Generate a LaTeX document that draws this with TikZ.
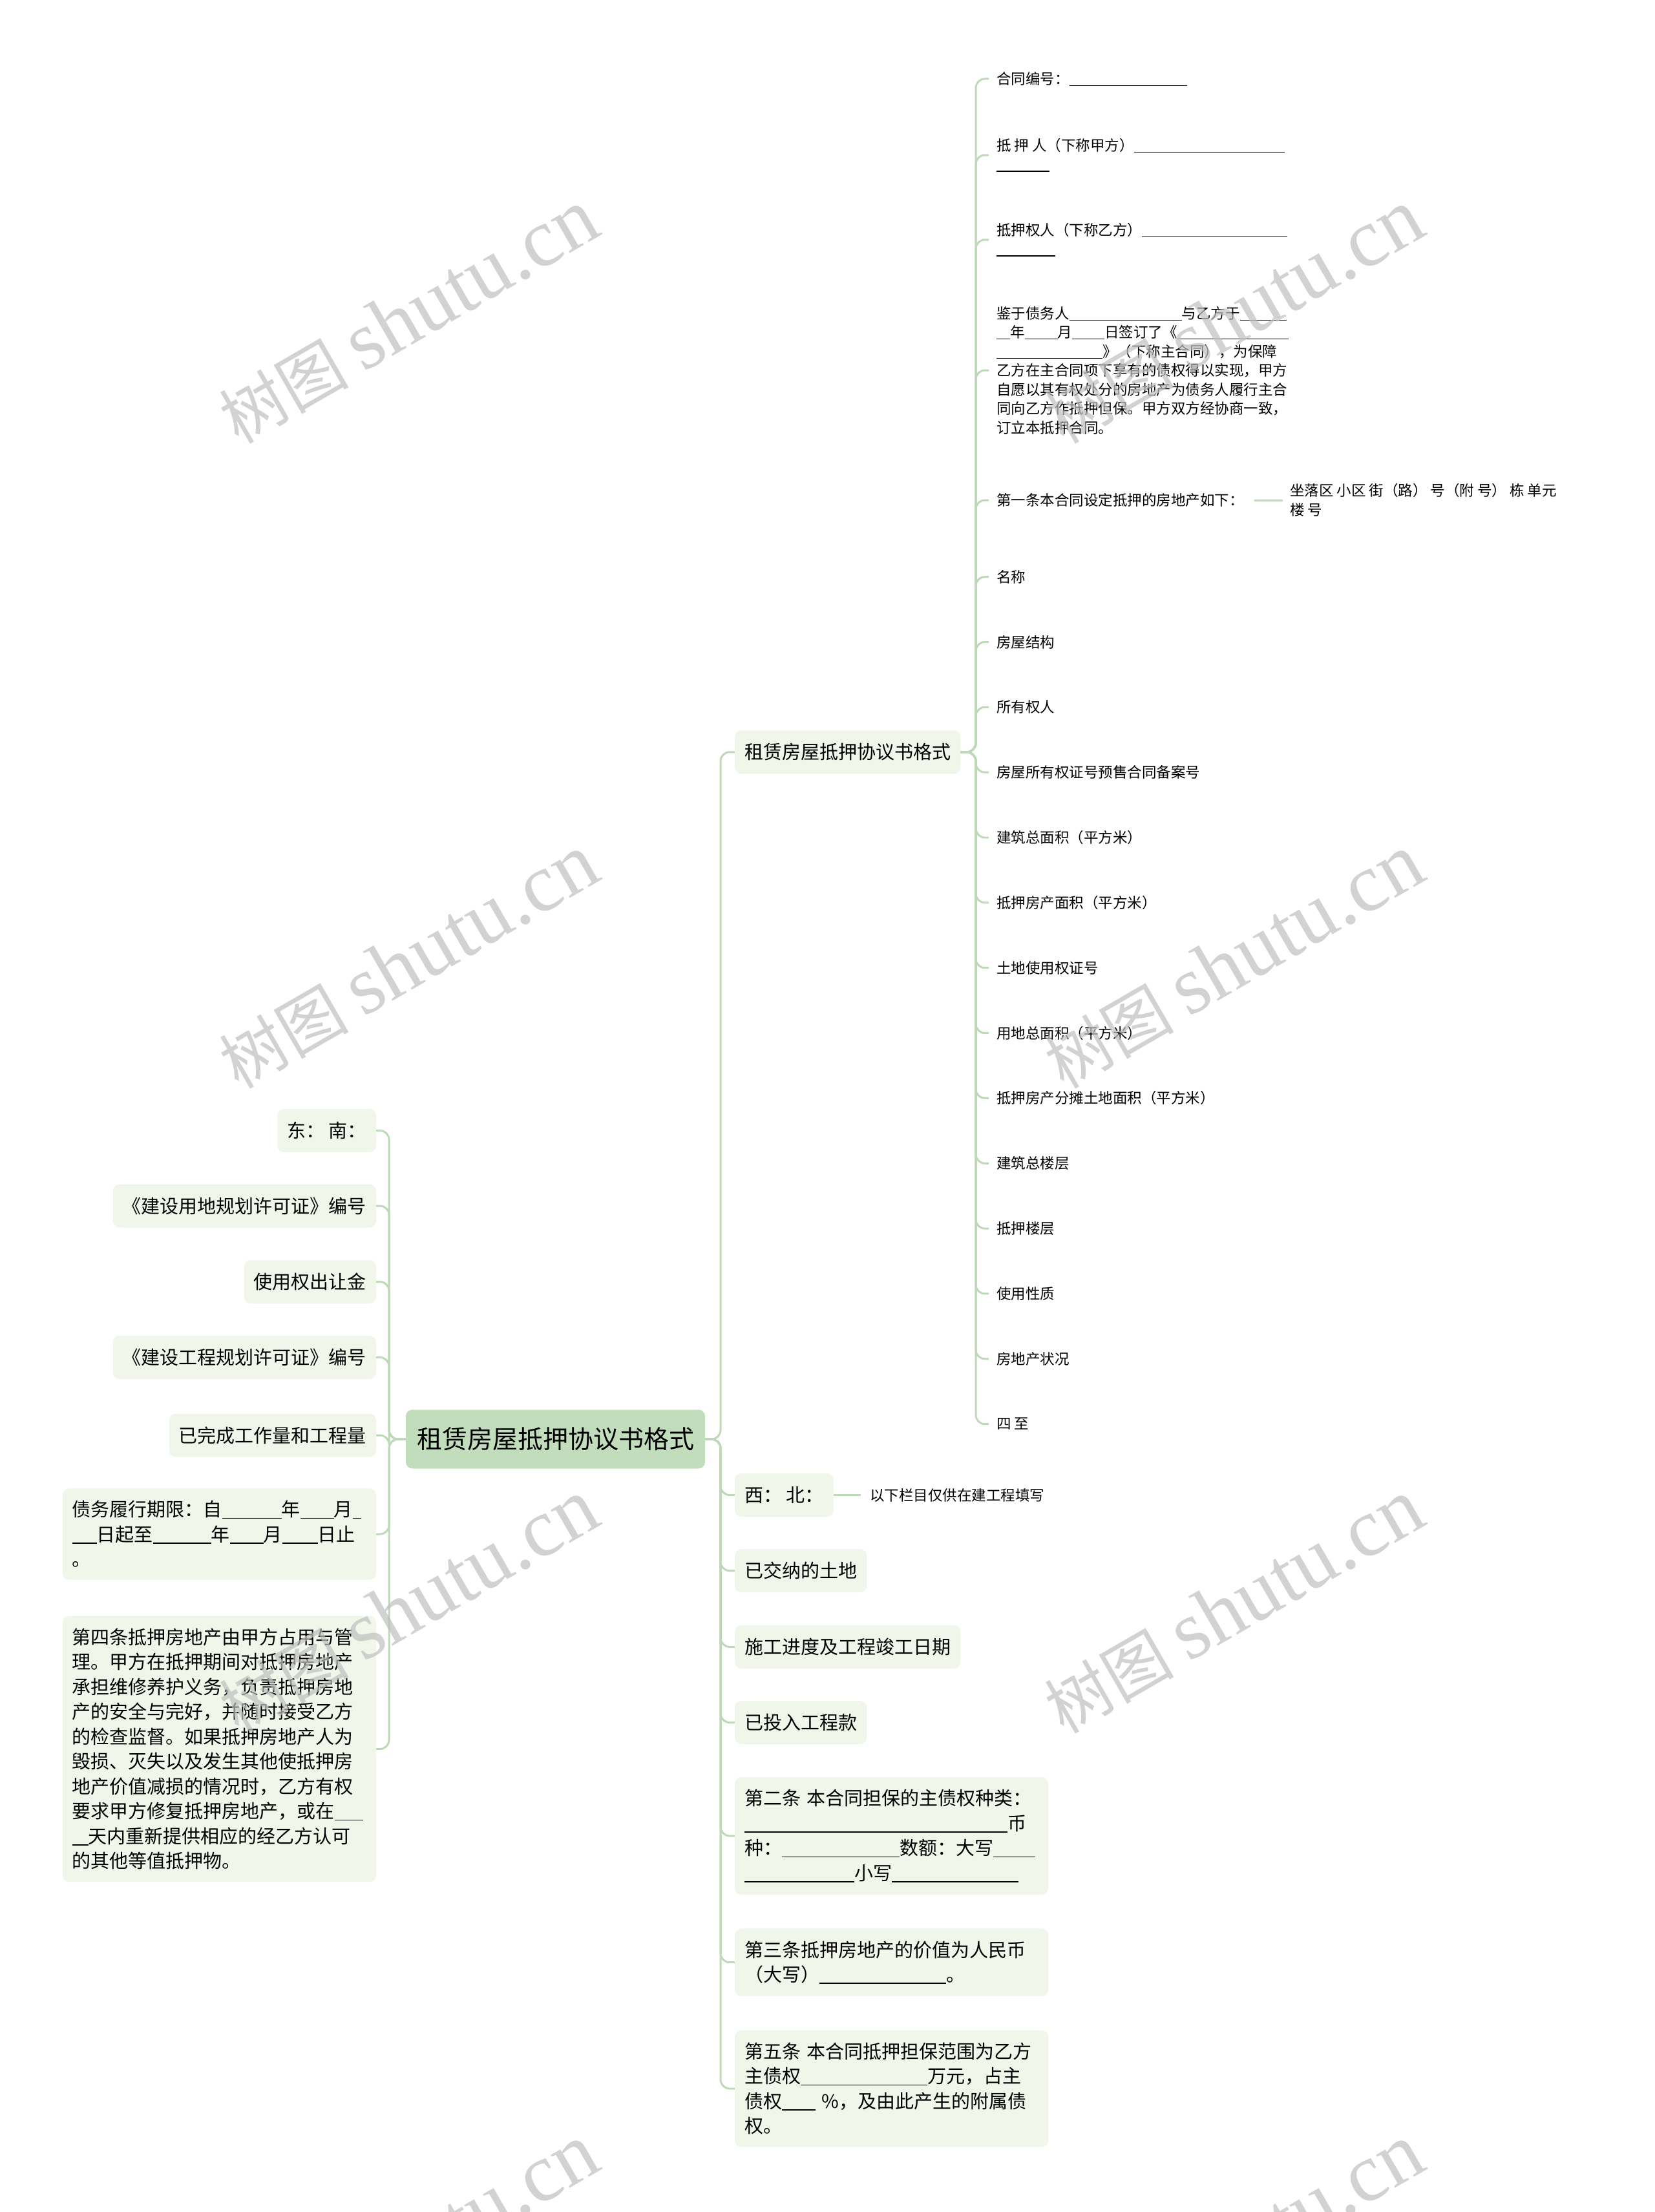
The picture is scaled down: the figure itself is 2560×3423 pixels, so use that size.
\documentclass[tikz,border=0pt]{standalone}
\usepackage{fontspec}
\setmainfont{Noto Sans CJK SC}
\newfontfamily\markfont{Liberation Serif}
\usepackage{xcolor}
\usepackage{tikz}
\usetikzlibrary{positioning}

\definecolor{rootgreen}{RGB}{194,221,188}
\definecolor{boxgreen}{RGB}{240,246,234}
\definecolor{linegreen}{RGB}{190,217,184}

\setlength{\parindent}{0pt}
\newcommand{\fillin}[1]{\rule[-0.12em]{#1pt}{0.055em}}

\begin{document}
\begin{tikzpicture}[
			x=1pt, y=-1pt,
			rootblock/.style = {rectangle, fill=rootgreen, rounded corners=10pt,
					inner xsep=17pt, minimum height=91pt, font=\fontsize{39}{47}\selectfont},
			branchblock/.style = {rectangle, fill=boxgreen, rounded corners=10pt,
					inner xsep=15pt, minimum height=67pt, font=\fontsize{29}{38.5}\selectfont},
			parablock/.style = {branchblock, text width=455pt, align=left, inner ysep=19pt},
			leaf/.style = {inner xsep=12pt, inner ysep=2pt, align=left,
					font=\fontsize{22.5}{29.5}\selectfont},
			line/.style = {draw=linegreen, line width=3pt, rounded corners=14pt},
			watermark/.style = {text=black!25, opacity=0.7, rotate=30, anchor=base},
		]
		\useasboundingbox (0,0) rectangle (2560,3423);

		% Root node
		\node [rootblock] (root) at (859.5,2227) {租赁房屋抵押协议书格式};

		% Left branch nodes
		\node [branchblock, anchor=east] (dongnan) at (582,1749.5) {东： 南：};
		\node [branchblock, anchor=east] (landpermit) at (582,1866) {《建设用地规划许可证》编号};
		\node [branchblock, anchor=east] (transfer) at (582,1983.5) {使用权出让金};
		\node [branchblock, anchor=east] (projpermit) at (582,2100.5) {《建设工程规划许可证》编号};
		\node [branchblock, anchor=east] (workdone) at (582,2221) {已完成工作量和工程量};
		\node [parablock, anchor=east] (debtterm) at (582,2374) {债务履行期限：自\fillin{92}年\fillin{52}月\fillin{13}\\
			\fillin{38}日起至\fillin{90}年\fillin{52}月\fillin{55}日止\\
			。};
		\node [parablock, anchor=east] (artfour) at (582,2706.5) {第四条抵押房地产由甲方占用与管\\
			理。甲方在抵押期间对抵押房地产\\
			承担维修养护义务，负责抵押房地\\
			产的安全与完好，并随时接受乙方\\
			的检查监督。如果抵押房地产人为\\
			毁损、灭失以及发生其他使抵押房\\
			地产价值减损的情况时，乙方有权\\
			要求甲方修复抵押房地产，或在\fillin{44}\\
			\fillin{25}天内重新提供相应的经乙方认可\\
			的其他等值抵押物。};

		% Right branch nodes
		\node [branchblock, anchor=west] (formatsub) at (1137,1163.8) {租赁房屋抵押协议书格式};
		\node [branchblock, anchor=west] (xibei) at (1137,2313.5) {西： 北：};
		\node [branchblock, anchor=west] (landpaid) at (1137,2430.7) {已交纳的土地};
		\node [branchblock, anchor=west] (progress) at (1137,2548.5) {施工进度及工程竣工日期};
		\node [branchblock, anchor=west] (invested) at (1137,2665.5) {已投入工程款};
		\node [parablock, anchor=west] (arttwo) at (1137,2841) {第二条 本合同担保的主债权种类：\\
			\fillin{407}币\\
			种：\fillin{182}数额：大写\fillin{65}\\
			\fillin{170}小写\fillin{196}};
		\node [parablock, anchor=west] (artthree) at (1137,3036.7) {第三条抵押房地产的价值为人民币\\
			（大写）\fillin{196}。};
		\node [parablock, anchor=west] (artfive) at (1137,3232) {第五条 本合同抵押担保范围为乙方\\
			主债权\fillin{196}万元，占主\\
			债权\fillin{52} \%，及由此产生的附属债\\
			权。};

		% Note beside the west/north node
		\node [leaf, anchor=west, right=42pt of xibei, inner xsep=14pt] (wnote) {以下栏目仅供在建工程填写};

		% Format sub-nodes
		\node [leaf, anchor=west] (contractno) at (1530,122) {合同编号：\fillin{182}};
		\node [leaf, anchor=west] (mortgagor) at (1530,240) {抵 押 人（下称甲方）\fillin{233}\\
			\fillin{82}};
		\node [leaf, anchor=west] (mortgagee) at (1530,371) {抵押权人（下称乙方）\fillin{225}\\
			\fillin{91}};
		\node [leaf, anchor=west] (recital) at (1530,573) {鉴于债务人\fillin{174}与乙方于\fillin{72}\\
			\fillin{21}年\fillin{51}月\fillin{50}日签订了《\fillin{172}\\
			\fillin{164}》（下称主合同），为保障\\
			乙方在主合同项下享有的债权得以实现，甲方\\
			自愿以其有权处分的房地产为债务人履行主合\\
			同向乙方作抵押但保。甲方双方经协商一致，\\
			订立本抵押合同。};
		\node [leaf, anchor=west] (artone) at (1530,774) {第一条本合同设定抵押的房地产如下：};
		\node [leaf, right=48pt of artone, inner xsep=11pt] (lotinfo) {坐落区 小区 街（路） 号（附 号） 栋 单元\\
			楼 号};
		\foreach \nm/\txt [count=\k from 0] in {name/名称,structure/房屋结构,owner/所有权人,
				certno/房屋所有权证号预售合同备案号,floorarea/建筑总面积（平方米）,
				mortarea/抵押房产面积（平方米）,landcert/土地使用权证号,landarea/用地总面积（平方米）,
				sharedarea/抵押房产分摊土地面积（平方米）,totalfloors/建筑总楼层,mortfloor/抵押楼层,
				usage/使用性质,status/房地产状况,bounds/四 至}
		\node [leaf, anchor=west] (\nm) at (1530,892.6+100.85*\k) {\txt};

		% Draw links
		\foreach \i in {dongnan,landpermit,transfer,projpermit,workdone,debtterm,artfour}
		\path [line] (root.west) -- (602,2227) |- (\i.east);
		\foreach \i in {formatsub,xibei,landpaid,progress,invested,arttwo,artthree,artfive}
		\path [line] (root.east) -- (1115,2227) |- (\i.west);
		\foreach \i in {contractno,mortgagor,mortgagee,recital,artone,name,structure,owner,
				certno,floorarea,mortarea,landcert,landarea,sharedarea,totalfloors,mortfloor,usage,status,bounds}
		\path [line] (formatsub.east) -- (1510,1163.8) |- (\i.west);
		\path [line] (xibei.east) -- (wnote.west);
		\path [line, shorten <=4pt] (artone.east) -- (lotinfo.west);

		% Watermarks
		\foreach \wx in {652,1929}
		\foreach \wy in {525,1523,2521,3519}
		\node [watermark] at (\wx,\wy) {\fontsize{100}{100}\selectfont 树图 {\markfont\fontsize{128}{128}\selectfont shutu.cn}};
	\end{tikzpicture}
\end{document}
